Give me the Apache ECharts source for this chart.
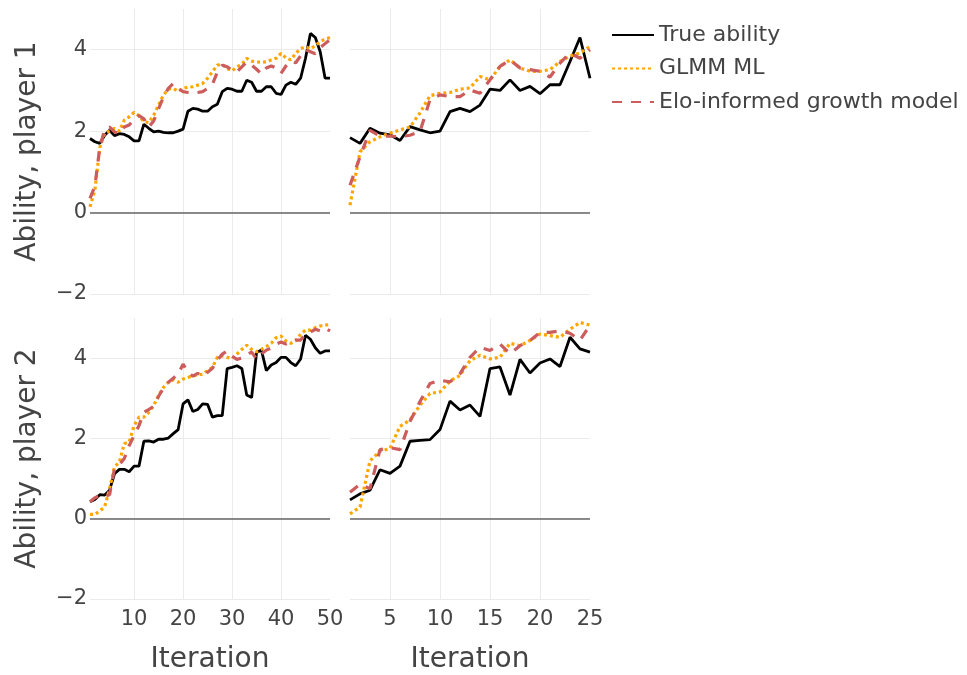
<!DOCTYPE html>
<html>
<head>
<meta charset="utf-8">
<script src="https://cdn.jsdelivr.net/npm/echarts@6/dist/echarts.min.js"></script>
<style>html,body{margin:0;padding:0;background:#fff;}#c{width:967px;height:675px;}</style>
</head>
<body>
<div id="c"></div>
<script>
const seriesNames = ['True ability', 'GLMM ML', 'Elo-informed growth model'];
const xTicksLong = [10, 20, 30, 40, 50];
const xTicksShort = [5, 10, 15, 20, 25];
const yTicks = [-2, 0, 2, 4];
const yTitles = ['Ability, player 1', 'Ability, player 2'];
const xTitle = 'Iteration';

// Player 1, 50 iterations
const p1LongTrue = [1.82,1.74,1.70,1.90,2.02,1.89,1.94,1.92,1.86,1.76,
  1.76,2.17,2.07,1.98,2.00,1.97,1.96,1.96,2.00,2.05,
  2.49,2.56,2.54,2.49,2.49,2.60,2.66,2.97,3.05,3.03,
  2.98,2.98,3.25,3.20,2.98,2.98,3.09,3.09,2.93,2.90,
  3.13,3.20,3.15,3.30,3.79,4.40,4.30,3.95,3.30,3.30];
const p1LongGlmm = [0.14,0.55,1.60,1.95,2.00,2.07,2.00,2.27,2.35,2.46,
  2.38,2.23,2.21,2.39,2.64,2.89,3.03,3.05,2.98,3.05,
  3.08,3.09,3.13,3.17,3.30,3.46,3.62,3.64,3.54,3.48,
  3.58,3.64,3.79,3.72,3.70,3.69,3.70,3.75,3.79,3.91,
  3.80,3.75,3.91,4.03,4.07,4.02,4.10,4.20,4.26,4.30];
const p1LongElo = [0.35,0.65,1.60,2.05,2.10,1.98,1.94,2.10,2.15,2.30,
  2.38,2.30,2.10,2.25,2.55,2.84,3.05,3.17,3.05,2.97,
  2.95,2.93,2.95,2.97,3.05,3.15,3.45,3.62,3.58,3.50,
  3.46,3.58,3.70,3.62,3.52,3.40,3.55,3.60,3.55,3.42,
  3.60,3.72,3.68,3.85,4.00,3.95,3.90,4.05,4.15,4.25];

// Player 1, 25 iterations
const p1ShortTrue = [1.84,1.70,2.07,1.95,1.91,1.77,2.11,2.03,1.96,2.00,
  2.48,2.56,2.48,2.64,3.03,3.00,3.26,3.00,3.10,2.92,
  3.14,3.14,3.71,4.30,3.30];
const p1ShortGlmm = [0.18,1.49,1.74,1.86,1.95,2.03,2.10,2.45,2.87,2.93,
  2.95,3.03,3.06,3.34,3.26,3.59,3.75,3.55,3.47,3.47,
  3.51,3.71,3.84,3.92,4.08];
const p1ShortElo = [0.67,1.37,2.02,1.88,1.88,1.86,1.90,1.99,2.77,2.89,
  2.85,2.85,3.01,2.93,3.26,3.59,3.75,3.55,3.51,3.47,
  3.33,3.67,3.92,3.79,4.00];

// Player 2, 50 iterations
const p2LongTrue = [0.42,0.48,0.60,0.59,0.71,1.12,1.23,1.23,1.17,1.31,
  1.31,1.93,1.94,1.91,1.98,1.98,2.01,2.12,2.22,2.86,
  2.96,2.67,2.72,2.86,2.85,2.53,2.57,2.57,3.74,3.77,
  3.81,3.74,3.08,3.02,4.14,4.20,3.69,3.83,3.89,4.02,
  4.02,3.89,3.81,3.98,4.57,4.47,4.26,4.12,4.18,4.18];
const p2LongGlmm = [0.11,0.11,0.19,0.30,0.75,1.29,1.41,1.87,1.91,2.32,
  2.53,2.53,2.65,2.82,3.07,3.27,3.40,3.46,3.40,3.48,
  3.52,3.56,3.58,3.60,3.69,3.77,4.02,4.06,4.02,3.99,
  4.10,4.22,4.32,4.22,4.16,4.22,4.29,4.37,4.51,4.55,
  4.43,4.37,4.43,4.60,4.70,4.70,4.76,4.80,4.82,4.84];
const p2LongElo = [0.42,0.52,0.59,0.55,0.60,1.25,1.35,1.50,1.82,2.07,
  2.32,2.65,2.72,2.80,3.05,3.25,3.40,3.50,3.60,3.85,
  3.65,3.55,3.62,3.55,3.65,3.75,3.95,4.10,4.18,4.05,
  3.97,4.00,4.08,4.15,3.98,4.10,4.20,4.25,4.35,4.40,
  4.35,4.40,4.45,4.45,4.60,4.65,4.72,4.68,4.75,4.68];

// Player 2, 25 iterations
const p2ShortTrue = [0.47,0.62,0.71,1.22,1.13,1.31,1.93,1.95,1.97,2.22,
  2.93,2.71,2.83,2.55,3.74,3.78,3.08,3.97,3.63,3.88,
  3.98,3.79,4.52,4.23,4.15];
const p2ShortGlmm = [0.12,0.29,1.44,1.68,1.75,2.30,2.46,2.83,3.12,3.16,
  3.43,3.57,3.94,4.07,3.98,4.02,4.37,4.31,4.44,4.60,
  4.56,4.52,4.72,4.89,4.82];
const p2ShortElo = [0.66,0.86,0.75,1.72,1.77,1.72,2.42,2.92,3.37,3.45,
  3.41,3.61,4.02,4.27,4.19,4.35,4.11,4.31,4.44,4.64,
  4.64,4.68,4.62,4.45,4.82];

const FONT = 'DejaVu Sans';
const TXT = '#444';
const GRIDC = '#ebebeb';
const styles = [
  {color: '#000000', width: 2.8, type: 'solid'},
  {color: '#FFA500', width: 3.2, type: [3, 3]},
  {color: '#CD5C5C', width: 3.2, type: [10, 9]}
];

const panels = [
  {grid: {left: 90, top: 9, width: 240, height: 285}, n: 50, ticks: xTicksLong, data: [p1LongTrue, p1LongGlmm, p1LongElo], bottom: false, left: true, ytitle: yTitles[0]},
  {grid: {left: 350, top: 9, width: 240, height: 285}, n: 25, ticks: xTicksShort, data: [p1ShortTrue, p1ShortGlmm, p1ShortElo], bottom: false, left: false},
  {grid: {left: 90, top: 318, width: 240, height: 285}, n: 50, ticks: xTicksLong, data: [p2LongTrue, p2LongGlmm, p2LongElo], bottom: true, left: true, ytitle: yTitles[1]},
  {grid: {left: 350, top: 318, width: 240, height: 285}, n: 25, ticks: xTicksShort, data: [p2ShortTrue, p2ShortGlmm, p2ShortElo], bottom: true, left: false}
];

const grids = [], xAxes = [], yAxes = [], series = [];
panels.forEach((p, k) => {
  grids.push(Object.assign({containLabel: false}, p.grid));
  xAxes.push({
    type: 'value', gridIndex: k, min: 1, max: p.n,
    axisLine: {show: false},
    axisTick: {show: false, customValues: p.ticks.slice(0, p.ticks.length - 1)},
    axisLabel: {show: p.bottom, customValues: p.ticks, fontSize: 21, color: TXT, fontFamily: FONT, margin: 10},
    splitLine: {show: true, lineStyle: {color: GRIDC, width: 1}},
    name: p.bottom ? xTitle : '', nameLocation: 'middle', nameGap: 47,
    nameTextStyle: {fontSize: 28, color: TXT, fontFamily: FONT}
  });
  yAxes.push({
    type: 'value', gridIndex: k, min: -2, max: 5,
    axisLine: {show: false},
    axisTick: {show: false, customValues: yTicks},
    axisLabel: {show: p.left, customValues: yTicks, fontSize: 21, color: TXT, fontFamily: FONT, margin: 3,
      formatter: v => (v < 0 ? '\u2212' + Math.abs(v) : String(v))},
    splitLine: {show: true, lineStyle: {color: GRIDC, width: 1}},
    name: p.left ? p.ytitle : '', nameLocation: 'middle', nameGap: 48,
    nameTextStyle: {fontSize: 28, color: TXT, fontFamily: FONT}
  });
  p.data.forEach((arr, s) => {
    const ser = {
      name: seriesNames[s], type: 'line', xAxisIndex: k, yAxisIndex: k,
      data: arr.map((v, i) => [i + 1, v]),
      symbol: 'none', showSymbol: false, smooth: false,
      lineStyle: Object.assign({}, styles[s]),
      itemStyle: {color: styles[s].color},
      z: 3 + s, animation: false
    };
    if (s === 0) {
      ser.markLine = {
        silent: true, symbol: ['none', 'none'], label: {show: false},
        lineStyle: {color: '#666', width: 1.5, type: 'solid'},
        data: [{yAxis: 0}], animation: false
      };
    }
    series.push(ser);
  });
});

const chart = echarts.init(document.getElementById('c'), null, {renderer: 'canvas'});
chart.setOption({
  animation: false,
  backgroundColor: '#ffffff',
  textStyle: {fontFamily: FONT, color: TXT},
  legend: {
    data: seriesNames, orient: 'vertical', left: 606, top: 18,
    itemWidth: 42, itemHeight: 14, itemGap: 9.5,
    itemStyle: {opacity: 0},
    textStyle: {fontSize: 22, color: TXT, fontFamily: FONT, lineHeight: 24},
    selectedMode: false
  },
  grid: grids, xAxis: xAxes, yAxis: yAxes, series: series
});
</script>
</body>
</html>
